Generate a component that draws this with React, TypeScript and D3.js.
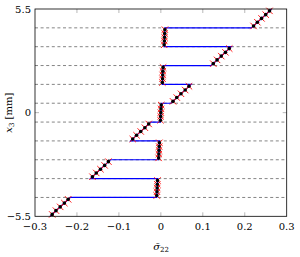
import React from 'react';
import * as d3 from 'd3';

// layer interfaces (dashed lines)
const interfaces = [-4.5, -3.5, -2.5, -1.5, -0.5, 0.5, 1.5, 2.5, 3.5, 4.5];

// marker positions through thickness and stress values
const markerZ = [
  -5.4, -5.2, -5.0, -4.8, -4.6,
  -4.4, -4.2, -4.0, -3.8, -3.6,
  -3.4, -3.2, -3.0, -2.8, -2.6,
  -2.4, -2.2, -2.0, -1.8, -1.6,
  -1.4, -1.2, -1.0, -0.8, -0.6,
  -0.4, -0.2, 0.0, 0.2, 0.4,
  0.6, 0.8, 1.0, 1.2, 1.4,
  1.6, 1.8, 2.0, 2.2, 2.4,
  2.6, 2.8, 3.0, 3.2, 3.4,
  3.6, 3.8, 4.0, 4.2, 4.4,
  4.6, 4.8, 5.0, 5.2, 5.4,
];
const markerS = [
  -0.259, -0.25, -0.24, -0.23, -0.221,
  -0.0097, -0.0092, -0.0088, -0.0084, -0.0079,
  -0.163, -0.154, -0.144, -0.134, -0.125,
  -0.0053, -0.0048, -0.0044, -0.004, -0.0035,
  -0.067, -0.058, -0.048, -0.038, -0.029,
  -0.0009, -0.0004, 0.0, 0.0004, 0.0009,
  0.029, 0.038, 0.048, 0.058, 0.067,
  0.0035, 0.004, 0.0044, 0.0048, 0.0053,
  0.125, 0.134, 0.144, 0.154, 0.163,
  0.0079, 0.0084, 0.0088, 0.0092, 0.0097,
  0.221, 0.23, 0.24, 0.25, 0.259,
];

// continuous line through the laminate
const lineZ = [-5.5, -4.5, -4.5, -3.5, -3.5, -2.5, -2.5, -1.5, -1.5, -0.5, -0.5,
  0.5, 0.5, 1.5, 1.5, 2.5, 2.5, 3.5, 3.5, 4.5, 4.5, 5.5];
const lineS = [-0.264, -0.216, -0.0099, -0.0077, -0.168, -0.12, -0.0055, -0.0033, -0.072, -0.024, -0.0011,
  0.0011, 0.024, 0.072, 0.0033, 0.0055, 0.12, 0.168, 0.0077, 0.0099, 0.216, 0.264];

const xTicks = [-0.3, -0.2, -0.1, 0, 0.1, 0.2, 0.3];
const yTicks = [-5.5, 0, 5.5];

const fmt = (v: number) => (v < 0 ? '\u2212' : '') + String(Math.abs(v));
const FONT = 'DejaVu Serif';

export default function App() {
  const left = 35, right = 286.7, top = 9, bottom = 216.3;
  const x = d3.scaleLinear().domain([-0.3, 0.3]).range([left, right]);
  const y = d3.scaleLinear().domain([-5.5, 5.5]).range([bottom, top]);

  const line = d3.line<number>()
    .x(i => x(lineS[i]))
    .y(i => y(lineZ[i]));
  const idx = d3.range(lineZ.length);

  const m = 3.2;

  return (
    <svg width={300} height={257}
      style={{ position: 'absolute', left: 0, top: 0, background: '#fff' }}>
      {interfaces.map(z => (
        <line key={z} x1={left} x2={right} y1={y(z)} y2={y(z)}
          stroke="#666" strokeWidth={0.8} strokeDasharray="3,2.6" />
      ))}
      {xTicks.slice(1, -1).map(t => (
        <g key={t} stroke="#999" strokeWidth={0.7}>
          <line x1={x(t)} x2={x(t)} y1={bottom} y2={bottom - 4} />
          <line x1={x(t)} x2={x(t)} y1={top} y2={top + 4} />
        </g>
      ))}
      <g stroke="#999" strokeWidth={0.7}>
        <line x1={left} x2={left + 4} y1={y(0)} y2={y(0)} />
        <line x1={right} x2={right - 4} y1={y(0)} y2={y(0)} />
      </g>
      <path d={line(idx) || ''} fill="none" stroke="#0000ff" strokeWidth={1.2} />
      {markerZ.map((z, i) => (
        <g key={'r' + i} stroke="#ff0000" strokeWidth={0.9}>
          <line x1={x(markerS[i]) - m} x2={x(markerS[i]) + m} y1={y(z) - m} y2={y(z) + m} />
          <line x1={x(markerS[i]) - m} x2={x(markerS[i]) + m} y1={y(z) + m} y2={y(z) - m} />
        </g>
      ))}
      {markerZ.map((z, i) => (
        <circle key={'b' + i} cx={x(markerS[i])} cy={y(z)} r={1.8} fill="#000" />
      ))}
      <rect x={left} y={top} width={right - left} height={bottom - top}
        fill="none" stroke="#000" strokeWidth={0.8} />
      {xTicks.map(t => (
        <text key={t} x={x(t)} y={230} textAnchor="middle" fontSize={10} fontFamily={FONT}>{fmt(t)}</text>
      ))}
      {yTicks.map(t => (
        <text key={t} x={31} y={y(t) + 3.5} textAnchor="end" fontSize={10} fontFamily={FONT}>{fmt(t)}</text>
      ))}
      <text transform={`translate(12,${(top + bottom) / 2}) rotate(-90)`} textAnchor="middle" fontSize={10} fontFamily={FONT}>
        <tspan fontStyle="italic">x</tspan>
        <tspan fontSize={7} dy={2}>3</tspan>
        <tspan dy={-2}> [mm]</tspan>
      </text>
      <text x={161} y={250} textAnchor="middle" fontSize={10} fontFamily={FONT}>
        <tspan fontStyle="italic">{'\u03C3\u0304'}</tspan>
        <tspan fontSize={7} dy={2}>22</tspan>
      </text>
    </svg>
  );
}
